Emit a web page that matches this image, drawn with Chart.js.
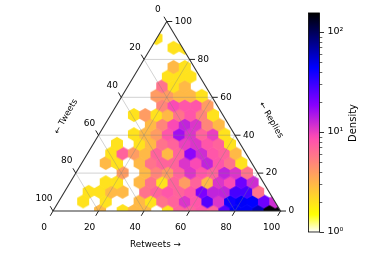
<!DOCTYPE html>
<html><head><meta charset="utf-8">
<style>html,body{margin:0;padding:0;background:#fff}canvas{display:block}</style>
<script src="https://cdn.jsdelivr.net/npm/chart.js@4"></script></head>
<body><canvas id="c" width="374" height="262"></canvas>
<script>
// ternary tick labels (percent)
const axisTicks = [0,20,40,60,80,100];
const gridLevels = [20,40,60,80];
// hexbin rows, bottom to top: height on the Replies axis, first bin position, bin counts
const replyLevels = [0,5.07,10.13,15.2,20.26,25.33,30.4,35.46,40.53,45.6,50.66,55.73,60.8,65.86,70.93,76,86.13,91.2];
const rowStart = [20.67,13.24,15.66,23.17,30.6,23.17,25.6,28.12,35.56,43,35.56,48,45.49,48,50.47,52.97,52.97,45.49];
const binStep = 4.967;
const rowCounts = [
 [3,0,2,3,3,0,2,7,7,8,7,25,45,45,60,150,150],
 [2,0,2,0,0,3,2,6,7,11,8,26,11,40,45,44,22,12],
 [2,2,3,3,0,6,7,8,7,8,20,13,13,28,28,6],
 [2,2,0,3,6,2,7,4,7,3,11,9,22,12],
 [4,0,3,5,4,7,11,8,7,13,11,6],
 [3,2,0,3,6,7,7,11,9,13,8,6,2],
 [2,7,4,3,7,3,7,18,12,8,7,3],
 [2,0,2,3,6,7,10,11,8,7,2],
 [2,3,4,8,16,11,7,10,2],
 [3,5,9,13,11,5,3],
 [2,4,2,3,6,8,5,2],
 [5,9,8,8,4],
 [4,4,3,3,2],
 [6,2,3],
 [2,2,2],
 [3,2],
 [2,2],
 [2]
];
const densityMin = 1, densityMax = 155;
const colorbarMajor = [1,10,100];
const colorbarMinor = [2,3,4,5,6,7,8,9,20,30,40,50,60,70,80,90];
const colorbarLabels = ['10\u2070','10\u00B9','10\u00B2'];

const FONT = '"DejaVu Sans"';
function gnuplot2r(t){
  const x = 1 - t, c = v => Math.round(255*Math.min(1,Math.max(0,v)));
  const b = x<0.25 ? 4*x : x<0.92 ? -2*x+1.84 : x/0.08-11.5;
  return `rgb(${c(x/0.32-0.78125)},${c(2*x-0.84)},${c(b)})`;
}
const colorOf = v => gnuplot2r(Math.log(v/densityMin)/Math.log(densityMax/densityMin));
const cache = {};
function hexImage(v){
  if(cache[v]) return cache[v];
  const cv = document.createElement('canvas'); cv.width=14; cv.height=16;
  const g = cv.getContext('2d'), hw=6, s=6.9;
  g.fillStyle = colorOf(v);
  g.beginPath();
  g.moveTo(7,8-s); g.lineTo(7+hw,8-s/2); g.lineTo(7+hw,8+s/2);
  g.lineTo(7,8+s); g.lineTo(7-hw,8+s/2); g.lineTo(7-hw,8-s/2);
  g.closePath(); g.fill();
  return cache[v]=cv;
}
const pt = (r,p) => ({x:r+p/2, y:p});
const hexData=[], hexCounts=[];
rowCounts.forEach((row,i)=>row.forEach((n,j)=>{
  if(n>0){ hexData.push({x:rowStart[i]+j*binStep, y:replyLevels[i]}); hexCounts.push(n);} }));
const gap = {x:NaN,y:NaN};
const gridData=[];
gridLevels.forEach(v=>{
  gridData.push(pt(0,v),pt(100-v,v),gap, pt(v,0),pt(v,100-v),gap, pt(100-v,0),pt(0,100-v),gap);
});
const frameData=[pt(0,0),pt(100,0),pt(0,100),pt(0,0)];
const tickData=[];
axisTicks.forEach(v=>{
  const b=pt(v,0); tickData.push(b,{x:b.x-1.23,y:b.y-2.53},gap);
  const l=pt(0,100-v); tickData.push(l,{x:l.x-1.23,y:l.y+2.53},gap);
  const r=pt(100-v,v); tickData.push(r,{x:r.x+2.42,y:r.y},gap);
});

const overlay = {
  id:'overlay',
  beforeDatasetDraw(chart,args){
    if(args.index!==0) return;
    const {x,y}=chart.scales, c=chart.ctx;
    c.save(); c.beginPath();
    frameData.forEach((p,i)=>{const X=x.getPixelForValue(p.x),Y=y.getPixelForValue(p.y); i?c.lineTo(X,Y):c.moveTo(X,Y);});
    c.closePath(); c.clip();
  },
  afterDatasetDraw(chart,args){ if(args.index===0) chart.ctx.restore(); },
  afterDraw(chart){
    const {x,y,cb}=chart.scales, c=chart.ctx;
    const text=(s,px,py,align='center',size=9,rot=0)=>{
      c.save(); c.translate(px,py); c.rotate(rot);
      c.font=`${size}px ${FONT}`; c.fillStyle='#000'; c.textAlign=align; c.textBaseline='middle';
      c.fillText(s,0,0); c.restore();
    };
    axisTicks.forEach(v=>{
      const b=pt(v,0); text(String(v),x.getPixelForValue(b.x)-8.9,y.getPixelForValue(b.y)+16.5);
      const l=pt(0,100-v); text(String(v),x.getPixelForValue(l.x)-9,y.getPixelForValue(l.y)-12);
      const r=pt(100-v,v); text(String(v),x.getPixelForValue(r.x)+8,y.getPixelForValue(r.y),'left');
    });
    text('Retweets \u2192',155.5,245,'center',8.8);
    text('\u2190 Tweets',66,116.5,'center',8.5,-Math.PI/3);
    text('\u2190 Replies',271,120,'center',8.5,Math.PI/3);
    // colorbar
    const L=308.5,R=319.5,T=cb.getPixelForValue(densityMax),B=cb.getPixelForValue(densityMin);
    const grad=c.createLinearGradient(0,B,0,T);
    for(let i=0;i<=64;i++) grad.addColorStop(i/64,gnuplot2r(i/64));
    c.fillStyle=grad; c.fillRect(L,T,R-L,B-T);
    c.strokeStyle='#000'; c.lineWidth=0.8; c.strokeRect(L,T,R-L,B-T);
    colorbarMajor.forEach((v,i)=>{
      const p=Math.round(cb.getPixelForValue(v))+.5;
      c.beginPath(); c.moveTo(R,p); c.lineTo(R+4.5,p); c.stroke();
      text(colorbarLabels[i],327.5,p-0.5,'left',9.5);
    });
    c.lineWidth=0.6;
    colorbarMinor.forEach(v=>{
      const p=Math.round(cb.getPixelForValue(v))+.5;
      c.beginPath(); c.moveTo(R,p); c.lineTo(R+2.8,p); c.stroke();
    });
    text('Density',353.5,123,'center',10,-Math.PI/2);
  }
};

new Chart(document.getElementById('c'),{
  type:'scatter',
  data:{datasets:[
    {label:'Density',data:hexData,order:4,pointRadius:6,
     pointStyle:ctx=>hexImage(hexCounts[ctx.dataIndex]||2),
     backgroundColor:ctx=>colorOf(hexCounts[ctx.dataIndex]||2),clip:false},
    {label:'grid',data:gridData,order:3,showLine:true,pointRadius:0,spanGaps:false,
     borderColor:'rgba(130,130,130,0.45)',borderWidth:0.8,clip:false},
    {label:'frame',data:frameData,order:2,showLine:true,pointRadius:0,
     borderColor:'#333',borderWidth:1.1,clip:false},
    {label:'ticks',data:tickData,order:1,showLine:true,pointRadius:0,spanGaps:false,
     borderColor:'#222',borderWidth:1,clip:false}
  ]},
  options:{
    responsive:false,animation:false,devicePixelRatio:1,
    layout:{padding:0,autoPadding:false},
    plugins:{legend:{display:false},tooltip:{enabled:false}},
    scales:{
      x:{type:'linear',display:false,bounds:'data',min:-23.3,max:141.1},
      y:{type:'linear',display:false,bounds:'data',min:-26.9,max:111.35},
      cb:{type:'logarithmic',display:false,bounds:'data',position:'right',min:0.501,max:208.9}
    }
  },
  plugins:[overlay]
});
</script></body></html>
